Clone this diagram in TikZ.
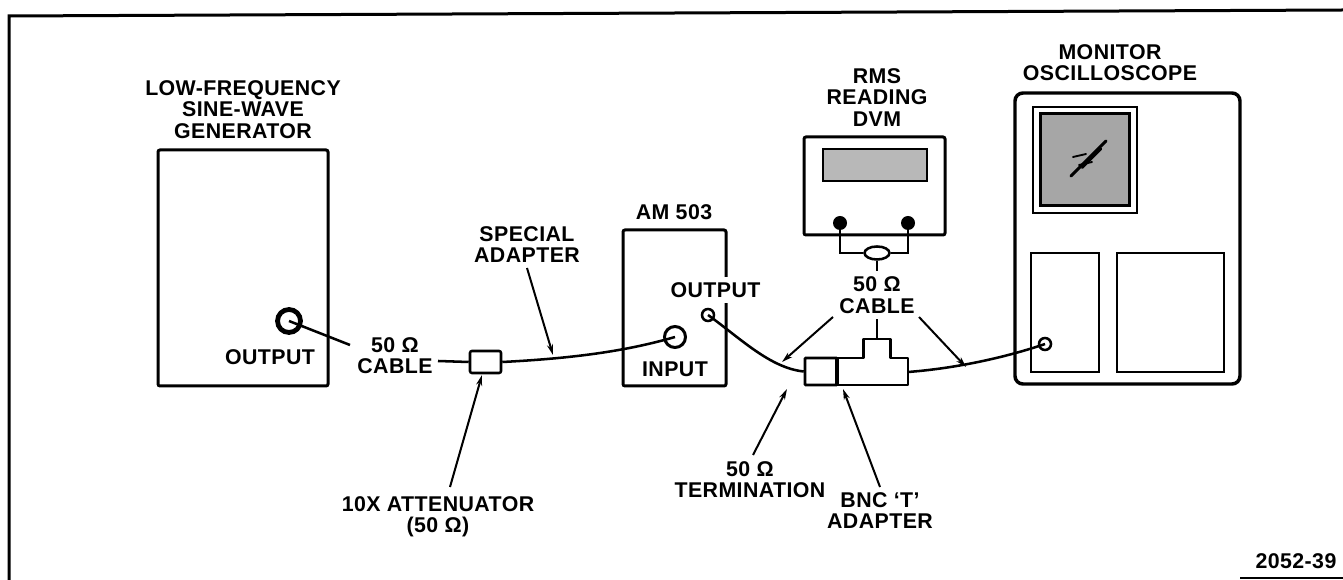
\documentclass[tikz,border=0pt]{standalone}
\usepackage{fontspec}
\setmainfont{Liberation Sans}[LetterSpace=2]
\usetikzlibrary{arrows.meta,shapes.geometric}
\begin{document}
\begin{tikzpicture}[x=0.75pt,y=-0.75pt,
  lbl/.style={font=\bfseries\fontsize{16}{16.2}\selectfont, align=center, inner sep=0pt},
  unit/.style={draw, line width=2.25pt, rounded corners=1.5pt, inner sep=0pt, rectangle},
  thinbox/.style={draw, line width=1.5pt, inner sep=0pt, rectangle},
  cable/.style={line width=1.9pt},
  ptr/.style={line width=1.5pt, -{Stealth[length=8pt,width=4.5pt]}},
]
\useasboundingbox (0,0) rectangle (1343,580);
% frame
\draw[line width=2.25pt] (9,580) -- (9,16) -- (1343,10);
\draw[line width=1.5pt] (1240,578.5) -- (1343,578.5);

% ---------- generator ----------
\node[unit, minimum width=127.5pt, minimum height=177pt] (gen) at (243,268) {};
\node[circle, draw, line width=3.6pt, minimum size=17.25pt, inner sep=0pt] (genjack) at (289,321) {};
\node[lbl, anchor=north] (gentitle) at (243,80) {LOW-FREQUENCY\\SINE-WAVE\\GENERATOR};
\node[lbl] (genout) at (270,357) {OUTPUT};

% ---------- attenuator ----------
\node[unit, line width=1.9pt, minimum width=23.25pt, minimum height=16.5pt] (attn) at (485.5,362) {};

% ---------- AM 503 ----------
\node[unit, minimum width=77.25pt, minimum height=117pt] (am) at (674.5,308) {};
\node[circle, draw, line width=2.25pt, minimum size=15.75pt, inner sep=0pt] (injack) at (675,337) {};
\node[circle, draw, line width=1.9pt, minimum size=9pt, inner sep=0pt] (outjack) at (708,315) {};
\node[lbl] (amtitle) at (674,212) {AM 503};
\node[lbl] (amin) at (675,369) {INPUT};
\node[lbl, fill=white, inner sep=4pt] (amout) at (715.5,290) {OUTPUT};

% ---------- DVM ----------
\node[unit, minimum width=105.75pt, minimum height=73.5pt] (dvm) at (874.5,186) {};
\node[draw, line width=1.9pt, fill=black!28, inner sep=0pt, minimum width=78pt, minimum height=24pt] (disp) at (875,165) {};
\node[circle, fill, minimum size=10.5pt, inner sep=0pt] (tl) at (840,223) {};
\node[circle, fill, minimum size=10.5pt, inner sep=0pt] (tr) at (908,223) {};
\node[ellipse, draw, line width=1.9pt, minimum width=18.75pt, minimum height=9.75pt, inner sep=0pt] (ell) at (877,253) {};
\node[lbl, anchor=north] (dvmtitle) at (877,68) {RMS\\READING\\DVM};
\draw[cable] (tl.center) |- (ell.west);
\draw[cable] (tr.center) |- (ell.east);

% ---------- oscilloscope ----------
\node[unit, line width=2.6pt, rounded corners=6pt, minimum width=168.75pt, minimum height=218.25pt] (scope) at (1127.5,238.5) {};
\node[thinbox, line width=1.9pt, minimum width=78pt, minimum height=79.5pt] (scrout) at (1085,160) {};
\node[thinbox, line width=2.25pt, fill=black!35, minimum width=66.75pt, minimum height=69pt] (scrin) at (1084.5,160) {};
\draw[line width=2.2pt, line cap=round] (1071,176) -- (1106,141);
\draw[line width=1.6pt, line cap=round] (1082,168) -- (1101,149);
\draw[line width=1.4pt, line cap=round] (1073,157) -- (1086,154);
\draw[line width=1.4pt, line cap=round] (1079,165) -- (1092,162);
\node[thinbox, minimum width=51pt, minimum height=89.25pt] (lpanel) at (1065,312.5) {};
\node[thinbox, minimum width=80.25pt, minimum height=89.25pt] (rpanel) at (1170.5,312.5) {};
\node[circle, draw, line width=1.9pt, minimum size=9pt, inner sep=0pt] (scopejack) at (1045,344) {};
\node[lbl, anchor=north] (scopetitle) at (1110,44) {MONITOR\\OSCILLOSCOPE};

% ---------- termination and BNC T ----------
\node[unit, line width=1.9pt, rounded corners=0.5pt, minimum width=24pt, minimum height=20.25pt] (term) at (821,371.5) {};
\coordinate (tTop) at (877,339);
\coordinate (tR) at (908,372);
\draw[line width=1.9pt, line join=round] (837,385) -- (837,358) -- (863.5,358) -- (863.5,339) -- (tTop) -- (890.5,339) -- (890.5,358) -- (908,358) -- (908,385) -- cycle;
\draw[line width=3pt] (837,358) -- (837,385);

% ---------- cables ----------
\coordinate (c1a) at (350,345);
\coordinate (c1b) at (438,361);
\draw[cable] (genjack.center) -- (c1a);
\draw[cable] (c1b) -- (attn.west);
\draw[cable] (attn.east) .. controls (580,358) and (630,350) .. (injack.center);
\draw[cable] (outjack.center) .. controls (740,338) and (770,368) .. (term.west);
\draw[cable] (tR) .. controls (960,368) and (1010,356) .. (scopejack.center);
\draw[cable] (ell.south) -- (tTop);

% ---------- labels ----------
\node[lbl, anchor=north] (cab1) at (395,337) {50 Ω\\CABLE};
\node[lbl, anchor=north, fill=white, inner sep=4pt] (cab2) at (877,271) {50 Ω\\CABLE};
\node[lbl, anchor=north] (spectitle) at (527,226) {SPECIAL\\ADAPTER};
\node[lbl, anchor=north] (termlbl) at (750,461) {50 Ω\\TERMINATION};
\node[lbl, anchor=north] (bnclbl) at (880,492) {BNC ‘T’\\ADAPTER};
\node[lbl, anchor=north] (attlbl) at (438,496) {10X ATTENUATOR\\(50 Ω)};
\node[lbl] (fig) at (1296,561.5) {2052-39};

% ---------- pointers ----------
\coordinate (p1s) at (527,268); \coordinate (p1e) at (553,355);
\coordinate (p2s) at (450,487); \coordinate (p2e) at (482,375);
\coordinate (p3s) at (833,317); \coordinate (p3e) at (782,362);
\coordinate (p4s) at (919,317); \coordinate (p4e) at (966,367);
\coordinate (p5s) at (753,455); \coordinate (p5e) at (787,389);
\coordinate (p6s) at (880,487); \coordinate (p6e) at (843,389);
\draw[ptr] (p1s) -- (p1e);
\draw[ptr] (p2s) -- (p2e);
\draw[ptr] (p3s) -- (p3e);
\draw[ptr] (p4s) -- (p4e);
\draw[ptr] (p5s) -- (p5e);
\draw[ptr] (p6s) -- (p6e);
\end{tikzpicture}
\end{document}
